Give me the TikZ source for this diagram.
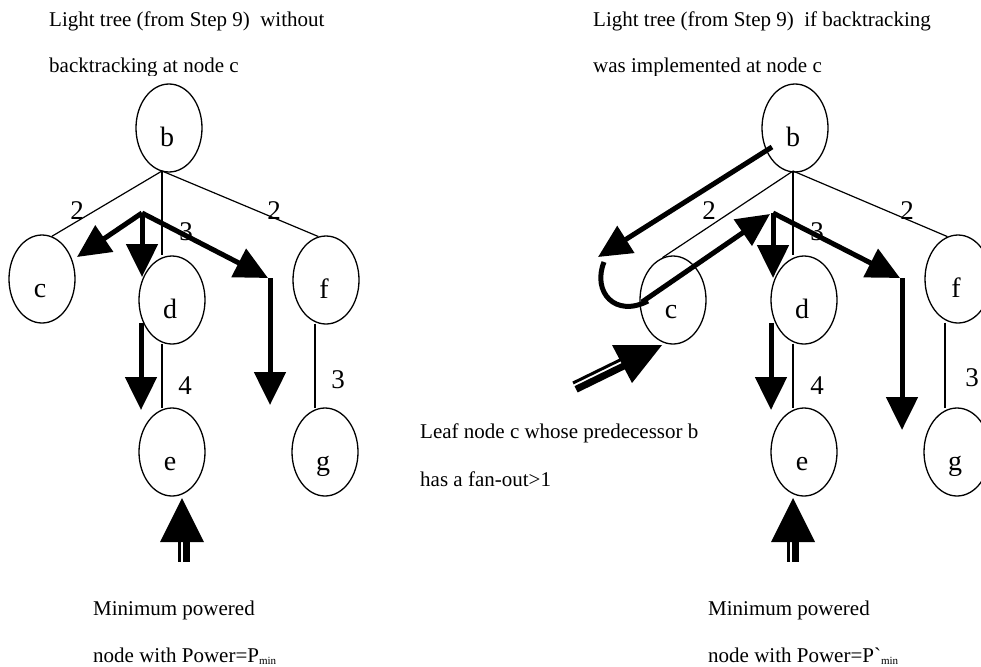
\documentclass[tikz,border=0pt]{standalone}
\usepackage{fontspec}
\setmainfont{Liberation Serif}
\usetikzlibrary{arrows.meta,shapes.geometric,calc}
\begin{document}
\begin{tikzpicture}[x=1pt,y=-1pt,
 nd/.style={draw,ellipse,line width=1.3pt,minimum width=66pt,minimum height=88pt,inner sep=0pt},
 lbl/.style={font=\fontsize{27}{30}\selectfont,inner sep=0pt},
 nl/.style={font=\fontsize{28}{30}\selectfont,inner sep=0pt,anchor=base},
 txt/.style={font=\fontsize{21}{25}\selectfont,anchor=base west,inner sep=0pt},
 edg/.style={line width=1.2pt},
 fat/.style={line width=5pt,-{Triangle[length=33pt,width=31pt]}},
 fatline/.style={line width=5pt},
 ]
\useasboundingbox (0,0) rectangle (981,666);

% ---------- texts ----------
\begin{scope}
\clip (0,0) rectangle (981,76);
\node[txt] (t1) at (49,27) {Light tree (from Step 9)\ \ without};
\node[txt] (t2) at (49,73) {backtracking at node c};
\node[txt] (t3) at (593,27) {Light tree (from Step 9)\ \ if backtracking};
\node[txt] (t4) at (593,73) {was implemented at node c};
\end{scope}
\node[txt] (t5) at (420,438) {Leaf node c whose predecessor b};
\node[txt] (t6) at (420,486) {has a fan-out>1};
\node[txt] (t7) at (93,615) {Minimum powered};
\node[txt] (t8) at (93,662) {node with Power=P\raisebox{-2pt}{\fontsize{11}{12}\selectfont min}};
\node[txt] (t9) at (708,615) {Minimum powered};
\node[txt] (t10) at (708,662) {node with Power=P\textasciigrave\raisebox{-2pt}{\fontsize{11}{12}\selectfont min}};

% ---------- left tree ----------
\node[nd] (bL) at (169,128) {};
\node[nd] (cL) at (42,279) {};
\node[nd] (dL) at (172,300) {};
\node[nd] (fL) at (326,280) {};
\node[nd] (eL) at (172,452) {};
\node[nd] (gL) at (325,452) {};
\foreach \n/\t in {bL/b,cL/c,dL/d,fL/f,eL/e,gL/g}{
  \node[nl] (\n t) at ($(\n)+(-2,18)$) {\t};
}
\coordinate (jL) at (162,171);
\draw[edg] (jL) -- (cL.77);
\draw[edg] (jL) -- (fL.100);
\draw[edg] (jL) -- (jL |- dL.north);
\draw[edg] ($(dL.south)+(-10,-1)$) -- ($(eL.north)+(-10,1)$);
\draw[edg] ($(fL.south)+(-11,-1)$) -- ($(gL.north)+(-10,1)$);
\node[lbl] (l1) at (77,211) {2};
\node[lbl] (l2) at (186,232) {3};
\node[lbl] (l3) at (274,211) {2};
\node[lbl] (l4) at (185,386) {4};
\node[lbl] (l5) at (338,380) {3};

\coordinate (aL) at (142,213);
\coordinate (aLc) at (77,257);
\coordinate (aLd) at (142,277);
\coordinate (aLk) at (268,278);
\coordinate (aLk2) at (270,278);
\coordinate (aLe) at (270,405);
\coordinate (aLs) at (141,323);
\coordinate (aLt) at (141,410);
\draw[fat] (aL) -- (aLc);
\draw[fat] (aL) -- (aLd);
\draw[fat] (aL) -- (aLk);
\draw[fat] (aLk2) -- (aLe);
\draw[fat] (aLs) -- (aLt);

% double arrow under e (left)
\fill (160,542) -- (182,498) -- (204,542) -- cycle;
\fill (178,540) rectangle (181,562);
\fill (183,540) rectangle (190,562);

% ---------- right tree ----------
\node[nd] (bR) at (795,128) {};
\node[nd] (cR) at (673,300) {};
\node[nd] (dR) at (804,300) {};
\node[nd] (fR) at (958,279) {};
\node[nd] (eR) at (804,452) {};
\node[nd] (gR) at (957,452) {};
\foreach \n/\t in {bR/b,cR/c,dR/d,fR/f,eR/e,gR/g}{
  \node[nl] (\n t) at ($(\n)+(-2,18)$) {\t};
}
\coordinate (jR) at (793,171);
\draw[edg] (jR) -- (cR.104);
\draw[edg] (jR) -- (fR.104);
\draw[edg] (jR) -- (jR |- dR.north);
\draw[edg] ($(dR.south)+(-11,-1)$) -- ($(eR.north)+(-11,1)$);
\draw[edg] ($(fR.south)+(-13,-1)$) -- ($(gR.north)+(-12,1)$);
\node[lbl] (r1) at (709,211) {2};
\node[lbl] (r2) at (817,232) {3};
\node[lbl] (r3) at (907,211) {2};
\node[lbl] (r4) at (817,386) {4};
\node[lbl] (r5) at (972,378) {3};

\coordinate (aR) at (773,213);
\coordinate (aRd) at (773,278);
\coordinate (aRk) at (900,278);
\coordinate (aRk2) at (902,278);
\coordinate (aRe) at (902,430);
\coordinate (aRs) at (771,323);
\coordinate (aRt) at (771,410);
\coordinate (bc1) at (772,147);
\coordinate (bc2) at (598,257);
\coordinate (cu1) at (604,262);
\coordinate (cu2) at (648,301);
\coordinate (cs) at (642,302);
\coordinate (ctip) at (770,214);
\draw[fat] (aR) -- (aRd);
\draw[fat] (aR) -- (aRk);
\draw[fat] (aRk2) -- (aRe);
\draw[fat] (aRs) -- (aRt);
\draw[fat] (bc1) -- (bc2);
\draw[fatline] (cu1) .. controls (592,292) and (615,318) .. (cu2);
\draw[fat] (cs) -- (ctip);

% double arrow under e (right)
\fill (771,542) -- (793,498) -- (815,542) -- cycle;
\fill (787,540) rectangle (790,562);
\fill (792,540) rectangle (799,562);

% double arrow into c (right)
\fill (612,345) -- (662,345) -- (632,383) -- cycle;
\draw[line width=3pt] (573.0,383.0) -- (624.5,357.8);
\draw[line width=7pt] (576.1,389.3) -- (627.6,364.1);
\end{tikzpicture}
\end{document}
